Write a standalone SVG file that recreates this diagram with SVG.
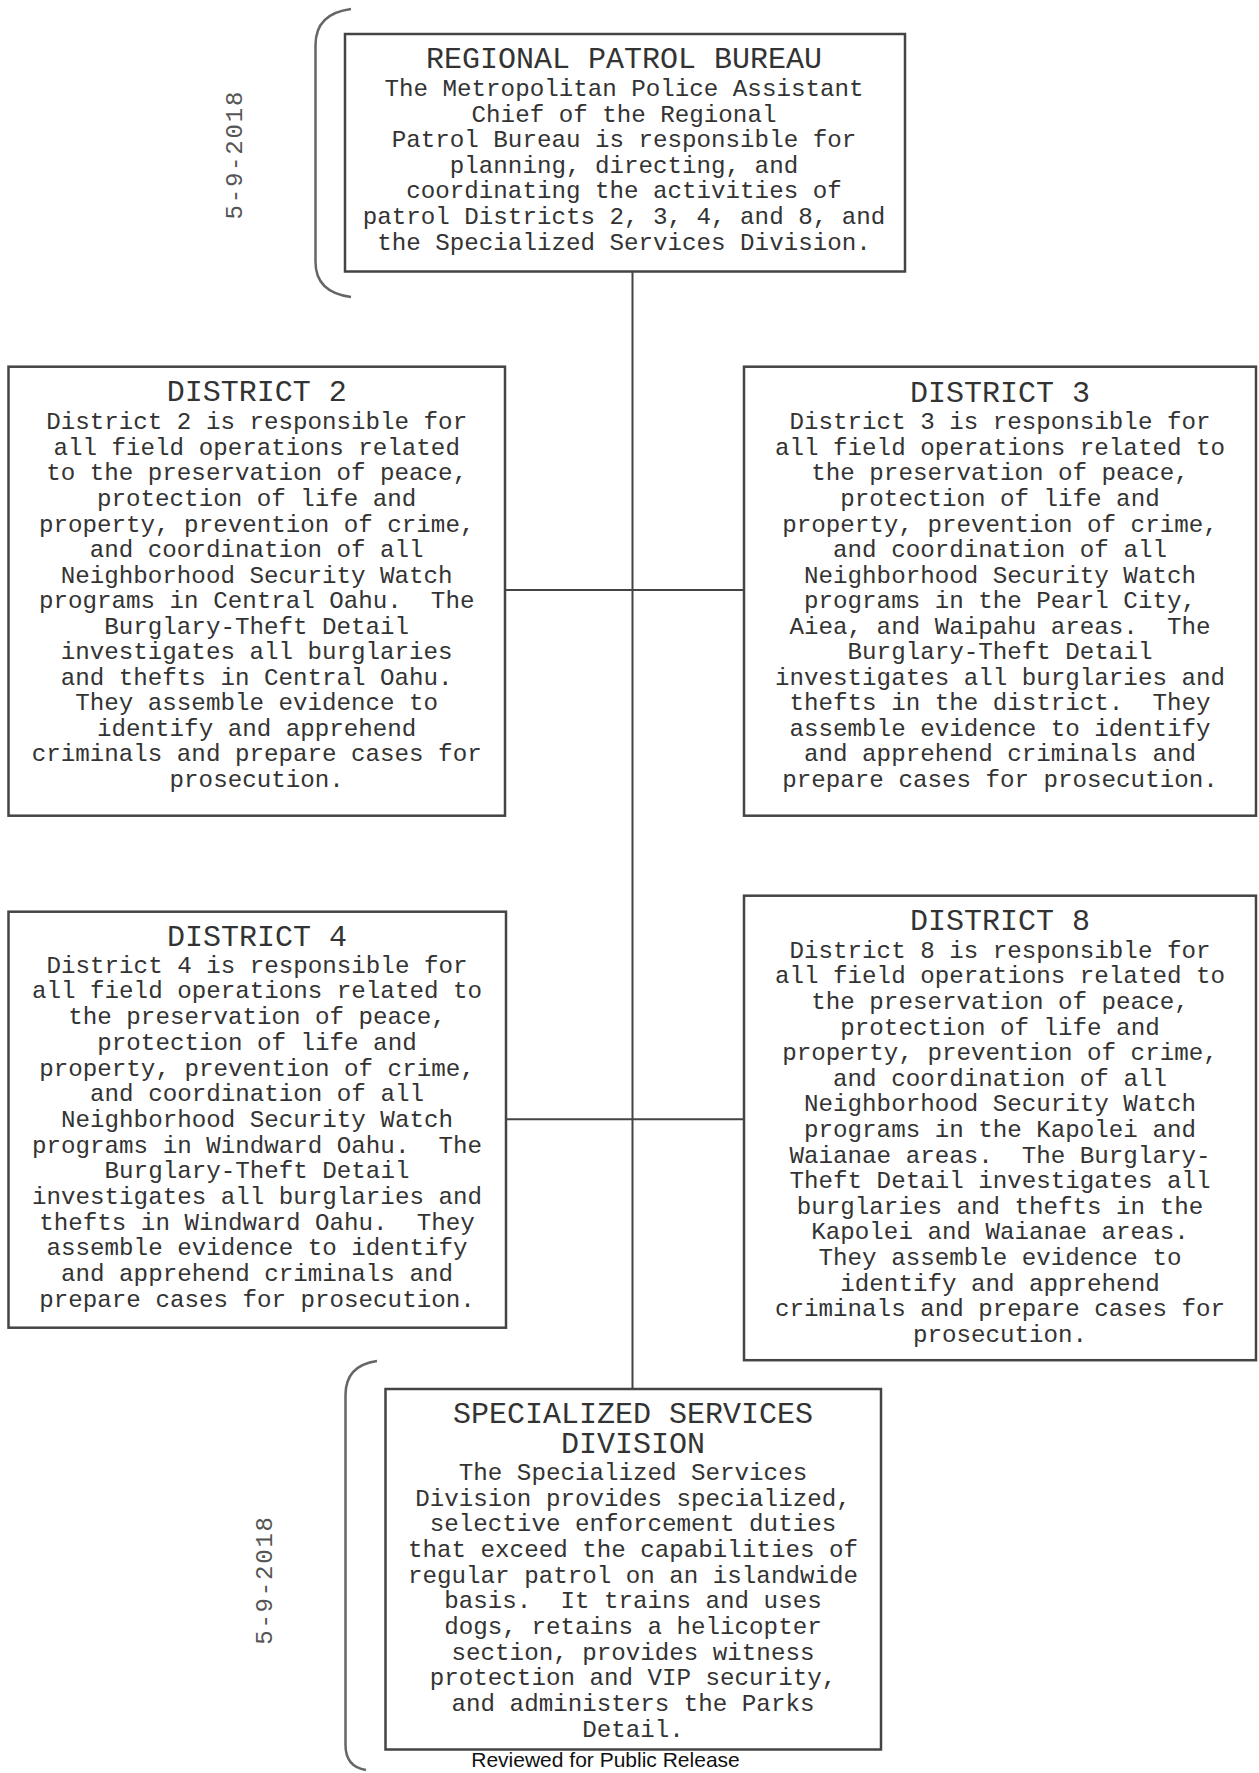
<svg xmlns="http://www.w3.org/2000/svg" width="1259" height="1773" viewBox="0 0 1259 1773">
<style>
.bg{fill:#ffffff}
.box{fill:#ffffff;stroke:#444444;stroke-width:2.5}
.con{stroke:#444444;stroke-width:2;fill:none}
.brk{stroke:#666666;stroke-width:2.5;fill:none}
.t{font-family:"Liberation Mono","Courier New",monospace;font-size:30px;fill:#333333;text-anchor:middle;white-space:pre}
.b{font-family:"Liberation Mono","Courier New",monospace;font-size:24.2px;fill:#333333;text-anchor:middle;white-space:pre}
.d{font-family:"Liberation Mono","DejaVu Sans Mono",monospace;font-size:24px;fill:#555555;text-anchor:middle;letter-spacing:1.8px}
.r{font-family:"Liberation Sans",Arial,sans-serif;font-size:21px;fill:#111111;text-anchor:middle}
</style>
<rect class="bg" x="0" y="0" width="1259" height="1773"/>

<g id="brackets">
<path class="brk" d="M351,9 C328,12 315.5,24 315.5,45 L315.5,262 C315.5,283 328,294 351,297"/>
<path class="brk" d="M377,1361 C356,1364 345.5,1375 345.5,1395 L345.5,1745 C345.5,1760 353,1768 366,1770"/>
</g>

<g id="dates">
<text class="d" transform="translate(241.5,154.7) rotate(-90)">5-9-2018</text>
<text class="d" transform="translate(271.5,1580) rotate(-90)">5-9-2018</text>
</g>

<g id="connectors">
<line class="con" x1="632.5" y1="271" x2="632.5" y2="1389"/>
<line class="con" x1="505" y1="590" x2="744" y2="590"/>
<line class="con" x1="506" y1="1119.3" x2="744" y2="1119.3"/>
</g>

<g id="regional-patrol-bureau">
<rect class="box" x="345" y="34" width="560" height="237.5"/>
<text class="t" x="624" y="68">REGIONAL PATROL BUREAU</text>
<text class="b" x="624" y="96">The Metropolitan Police Assistant</text>
<text class="b" x="624" y="121.6">Chief of the Regional</text>
<text class="b" x="624" y="147.2">Patrol Bureau is responsible for</text>
<text class="b" x="624" y="172.8">planning, directing, and</text>
<text class="b" x="624" y="198.4">coordinating the activities of</text>
<text class="b" x="624" y="224">patrol Districts 2, 3, 4, and 8, and</text>
<text class="b" x="624" y="249.6">the Specialized Services Division.</text>
</g>

<g id="district-2">
<rect class="box" x="8.5" y="366.7" width="496.5" height="449"/>
<text class="t" x="256.7" y="400.7">DISTRICT 2</text>
<text class="b" x="256.7" y="429.3">District 2 is responsible for</text>
<text class="b" x="256.7" y="454.85">all field operations related</text>
<text class="b" x="256.7" y="480.4">to the preservation of peace,</text>
<text class="b" x="256.7" y="505.95">protection of life and</text>
<text class="b" x="256.7" y="531.5">property, prevention of crime,</text>
<text class="b" x="256.7" y="557.05">and coordination of all</text>
<text class="b" x="256.7" y="582.6">Neighborhood Security Watch</text>
<text class="b" x="256.7" y="608.15">programs in Central Oahu.  The</text>
<text class="b" x="256.7" y="633.7">Burglary-Theft Detail</text>
<text class="b" x="256.7" y="659.25">investigates all burglaries</text>
<text class="b" x="256.7" y="684.8">and thefts in Central Oahu.</text>
<text class="b" x="256.7" y="710.35">They assemble evidence to</text>
<text class="b" x="256.7" y="735.9">identify and apprehend</text>
<text class="b" x="256.7" y="761.45">criminals and prepare cases for</text>
<text class="b" x="256.7" y="787">prosecution.</text>
</g>

<g id="district-3">
<rect class="box" x="744" y="366.7" width="512" height="449"/>
<text class="t" x="1000" y="401.7">DISTRICT 3</text>
<text class="b" x="1000" y="429.3">District 3 is responsible for</text>
<text class="b" x="1000" y="454.85">all field operations related to</text>
<text class="b" x="1000" y="480.4">the preservation of peace,</text>
<text class="b" x="1000" y="505.95">protection of life and</text>
<text class="b" x="1000" y="531.5">property, prevention of crime,</text>
<text class="b" x="1000" y="557.05">and coordination of all</text>
<text class="b" x="1000" y="582.6">Neighborhood Security Watch</text>
<text class="b" x="1000" y="608.15">programs in the Pearl City,</text>
<text class="b" x="1000" y="633.7">Aiea, and Waipahu areas.  The</text>
<text class="b" x="1000" y="659.25">Burglary-Theft Detail</text>
<text class="b" x="1000" y="684.8">investigates all burglaries and</text>
<text class="b" x="1000" y="710.35">thefts in the district.  They</text>
<text class="b" x="1000" y="735.9">assemble evidence to identify</text>
<text class="b" x="1000" y="761.45">and apprehend criminals and</text>
<text class="b" x="1000" y="787">prepare cases for prosecution.</text>
</g>

<g id="district-4">
<rect class="box" x="8.5" y="911.7" width="497.5" height="416"/>
<text class="t" x="257" y="945.7">DISTRICT 4</text>
<text class="b" x="257" y="972.7">District 4 is responsible for</text>
<text class="b" x="257" y="998.4">all field operations related to</text>
<text class="b" x="257" y="1024.1">the preservation of peace,</text>
<text class="b" x="257" y="1049.8">protection of life and</text>
<text class="b" x="257" y="1075.5">property, prevention of crime,</text>
<text class="b" x="257" y="1101.2">and coordination of all</text>
<text class="b" x="257" y="1126.9">Neighborhood Security Watch</text>
<text class="b" x="257" y="1152.6">programs in Windward Oahu.  The</text>
<text class="b" x="257" y="1178.3">Burglary-Theft Detail</text>
<text class="b" x="257" y="1204">investigates all burglaries and</text>
<text class="b" x="257" y="1229.7">thefts in Windward Oahu.  They</text>
<text class="b" x="257" y="1255.4">assemble evidence to identify</text>
<text class="b" x="257" y="1281.1">and apprehend criminals and</text>
<text class="b" x="257" y="1306.8">prepare cases for prosecution.</text>
</g>

<g id="district-8">
<rect class="box" x="744" y="895.7" width="512" height="464.5"/>
<text class="t" x="1000" y="930">DISTRICT 8</text>
<text class="b" x="1000" y="957.7">District 8 is responsible for</text>
<text class="b" x="1000" y="983.3">all field operations related to</text>
<text class="b" x="1000" y="1008.9">the preservation of peace,</text>
<text class="b" x="1000" y="1034.5">protection of life and</text>
<text class="b" x="1000" y="1060.1">property, prevention of crime,</text>
<text class="b" x="1000" y="1085.7">and coordination of all</text>
<text class="b" x="1000" y="1111.3">Neighborhood Security Watch</text>
<text class="b" x="1000" y="1136.9">programs in the Kapolei and</text>
<text class="b" x="1000" y="1162.5">Waianae areas.  The Burglary-</text>
<text class="b" x="1000" y="1188.1">Theft Detail investigates all</text>
<text class="b" x="1000" y="1213.7">burglaries and thefts in the</text>
<text class="b" x="1000" y="1239.3">Kapolei and Waianae areas.</text>
<text class="b" x="1000" y="1264.9">They assemble evidence to</text>
<text class="b" x="1000" y="1290.5">identify and apprehend</text>
<text class="b" x="1000" y="1316.1">criminals and prepare cases for</text>
<text class="b" x="1000" y="1341.7">prosecution.</text>
</g>

<g id="specialized-services-division">
<rect class="box" x="385.5" y="1389" width="495.5" height="360.5"/>
<text class="t" x="633" y="1422.7">SPECIALIZED SERVICES</text>
<text class="t" x="633" y="1453.3">DIVISION</text>
<text class="b" x="633" y="1480">The Specialized Services</text>
<text class="b" x="633" y="1505.67">Division provides specialized,</text>
<text class="b" x="633" y="1531.34">selective enforcement duties</text>
<text class="b" x="633" y="1557">that exceed the capabilities of</text>
<text class="b" x="633" y="1582.67">regular patrol on an islandwide</text>
<text class="b" x="633" y="1608.34">basis.  It trains and uses</text>
<text class="b" x="633" y="1634">dogs, retains a helicopter</text>
<text class="b" x="633" y="1659.67">section, provides witness</text>
<text class="b" x="633" y="1685.34">protection and VIP security,</text>
<text class="b" x="633" y="1711">and administers the Parks</text>
<text class="b" x="633" y="1736.67">Detail.</text>
</g>

<text class="r" x="605.5" y="1767">Reviewed for Public Release</text>
</svg>
